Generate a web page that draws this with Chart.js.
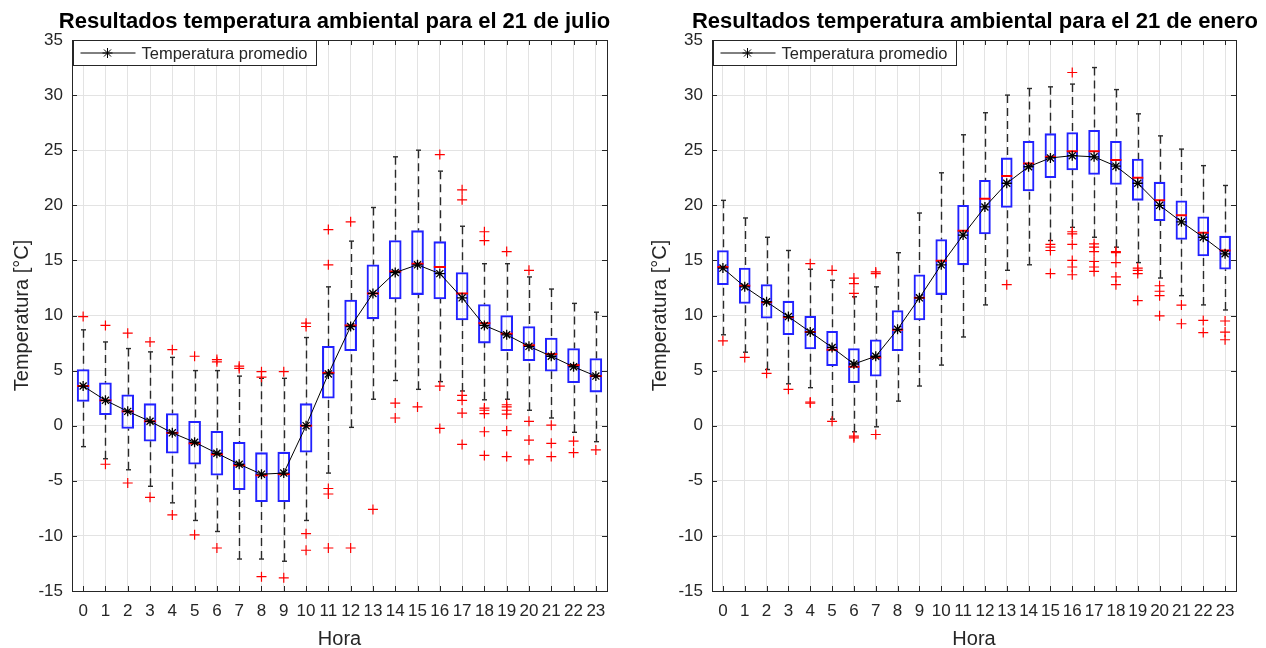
<!DOCTYPE html>
<html lang="es">
<head>
<meta charset="utf-8">
<title>Temperatura ambiental por hora</title>
<script src="https://cdn.jsdelivr.net/npm/chart.js@4.4.0/dist/chart.umd.min.js"></script>
<style>
  html, body { margin: 0; padding: 0; background: #fff; }
  .wrap { display: flex; width: 1266px; height: 648px; }
  .panel { width: 633px; height: 648px; }
</style>
</head>
<body>
<div class="wrap">
  <div class="panel"><canvas id="julio" width="633" height="648"></canvas></div>
  <div class="panel"><canvas id="enero" width="633" height="648"></canvas></div>
</div>
<script>
/* ---- Hours on the x axis ---- */
const HOURS = ['0', '1', '2', '3', '4', '5', '6', '7', '8', '9', '10', '11',
  '12', '13', '14', '15', '16', '17', '18', '19', '20', '21', '22', '23'];

/* ---- 21 de julio (°C) ---- */
const JUL_LOW    = [-1.9, -3.0, -4.0, -5.5, -7.0, -8.6, -9.6, -12.1, -12.1, -12.3, -8.6, -4.3,
  -0.15, 2.4, 4.1, 3.3, 4.0, 3.15, 2.35, 2.4, 1.4, 0.7, -0.6, -1.45];
const JUL_Q1     = [2.2, 1.0, -0.25, -1.4, -2.5, -3.5, -4.5, -5.8, -6.9, -6.9, -2.4, 2.5,
  6.8, 9.7, 11.5, 11.9, 11.5, 9.6, 7.5, 6.8, 5.9, 4.95, 3.9, 3.05];
const JUL_MEDIAN = [3.6, 2.3, 1.3, 0.4, -0.65, -1.6, -2.6, -3.6, -4.5, -4.4, 0.0, 4.8,
  9.1, 12.0, 14.0, 14.7, 14.4, 12.0, 9.3, 8.35, 7.3, 6.5, 5.5, 4.5];
const JUL_Q3     = [5.1, 3.9, 2.8, 2.0, 1.1, 0.4, -0.5, -1.5, -2.45, -2.4, 2.0, 7.2,
  11.4, 14.6, 16.8, 17.7, 16.7, 13.9, 11.0, 10.0, 9.0, 7.95, 7.0, 6.1];
const JUL_HIGH   = [8.7, 7.6, 7.0, 6.7, 6.2, 5.0, 5.0, 4.5, 4.3, 4.3, 8.0, 12.6,
  16.75, 19.8, 24.4, 25.0, 23.1, 18.1, 14.7, 14.7, 13.5, 12.4, 11.1, 10.3];
const JUL_MEAN   = [3.6, 2.3, 1.3, 0.4, -0.65, -1.5, -2.5, -3.5, -4.4, -4.3, 0.0, 4.7,
  9.0, 12.0, 13.9, 14.6, 13.8, 11.6, 9.1, 8.25, 7.2, 6.3, 5.35, 4.5];
const JUL_OUTLIERS = [
  [9.9], [9.1, -3.5], [8.4, -5.2], [7.6, -6.5], [6.9, -8.1], [6.3, -9.9],
  [6.0, 5.8, -11.1], [5.4, 5.2], [4.9, 4.4, -13.7], [4.9, -13.8],
  [9.3, 9.0, -9.8, -11.3], [17.8, 14.6, -5.7, -6.2, -11.1],
  [18.5, -11.1], [-7.6], [2.05, 0.7], [1.7], [24.6, 3.6, -0.25],
  [21.4, 20.5, 2.75, 2.3, 1.15, -1.7], [17.6, 16.8, 1.6, 1.4, 1.1, -0.55, -2.7],
  [15.8, 1.9, 1.7, 1.4, 1.05, -0.45, -2.8], [14.1, 0.4, -1.3, -3.1],
  [0.05, -1.6, -2.8], [-1.4, -2.45], [-2.2]
];

/* ---- 21 de enero (°C) ---- */
const ENE_LOW    = [8.25, 6.67, 5.1, 3.8, 3.45, 0.6, -0.55, -0.1, 2.23, 3.6, 5.5, 8.05,
  10.96, 14.1, 14.6, 16.8, 18.0, 17.1, 16.2, 14.8, 13.4, 11.8, 10.96, 10.5];
const ENE_Q1     = [12.8, 11.1, 9.76, 8.25, 6.97, 5.44, 3.9, 4.5, 6.8, 9.6, 11.9, 14.6,
  17.4, 19.8, 21.3, 22.5, 23.2, 22.8, 21.9, 20.45, 18.6, 16.9, 15.4, 14.2];
const ENE_MEDIAN = [14.4, 12.7, 11.2, 9.85, 8.5, 6.9, 5.35, 6.2, 8.7, 11.6, 14.97, 17.7,
  20.6, 22.65, 23.8, 24.4, 24.9, 24.9, 24.1, 22.5, 20.45, 19.1, 17.5, 15.9];
const ENE_Q3     = [15.9, 14.3, 12.8, 11.3, 9.94, 8.56, 7.0, 7.8, 10.45, 13.7, 16.9, 20.0,
  22.26, 24.3, 25.8, 26.5, 26.6, 26.8, 25.8, 24.2, 22.1, 20.4, 18.95, 17.2];
const ENE_HIGH   = [20.45, 18.85, 17.1, 15.9, 14.2, 13.2, 11.7, 12.6, 15.7, 19.3, 22.95, 26.4,
  28.4, 30.0, 30.6, 30.75, 31.0, 32.5, 30.5, 28.3, 26.3, 25.1, 23.6, 21.8];
const ENE_MEAN   = [14.3, 12.6, 11.25, 9.9, 8.5, 7.1, 5.6, 6.3, 8.75, 11.6, 14.6, 17.3,
  19.85, 22.0, 23.5, 24.3, 24.5, 24.4, 23.55, 22.0, 20.0, 18.5, 17.1, 15.6];
const ENE_OUTLIERS = [
  [7.7], [6.2], [4.75], [3.3], [14.7, 2.15, 2.05], [14.1, 0.4],
  [13.4, 12.9, 12.0, -0.95, -1.1], [13.95, 13.8, -0.8], [], [], [], [],
  [], [12.8], [], [16.45, 16.2, 15.9, 13.8],
  [32.05, 17.6, 17.4, 16.45, 15.0, 14.4, 13.7], [16.5, 16.2, 15.8, 14.9, 14.4, 14.0],
  [15.8, 15.7, 14.8, 13.5, 12.8], [14.3, 14.1, 13.8, 11.35], [12.7, 12.2, 11.8, 9.97],
  [10.95, 9.25], [9.55, 8.45], [9.5, 8.5, 7.8]
];

const FONT = "'Liberation Sans', Arial, Helvetica, sans-serif";
const INK = '#262626';
const GRID = '#e3e3e3';

Chart.defaults.font.family = FONT;
Chart.defaults.color = INK;

/* ---- Whiskers, axes frame, inner ticks, title and the legend box ---- */
const boxplotFrame = {
  id: 'boxplotFrame',
  beforeDatasetsDraw(chart, args, opts) {
    const { ctx, scales: { x, y } } = chart;
    ctx.save();
    ctx.strokeStyle = '#2a2a2a';
    ctx.lineWidth = 1.4;
    opts.low.forEach((lo, i) => {
      const px = Math.round(x.getPixelForValue(i)) + 0.5;
      [[opts.q1[i], lo], [opts.q3[i], opts.high[i]]].forEach(([from, to]) => {
        const yTo = y.getPixelForValue(to);
        ctx.setLineDash([8, 5]);
        ctx.beginPath();
        ctx.moveTo(px, yTo);
        ctx.lineTo(px, y.getPixelForValue(from));
        ctx.stroke();
        ctx.setLineDash([]);
        ctx.beginPath();
        ctx.moveTo(px - opts.cap, yTo);
        ctx.lineTo(px + opts.cap, yTo);
        ctx.stroke();
      });
    });
    ctx.restore();
  },
  afterDraw(chart, args, opts) {
    const { ctx, chartArea: a, scales: { x, y } } = chart;
    ctx.save();
    ctx.strokeStyle = INK;
    ctx.lineWidth = 1;
    ctx.strokeRect(Math.round(a.left) + 0.5, Math.round(a.top) + 0.5,
      Math.round(a.right - a.left), Math.round(a.bottom - a.top));

    // inward tick marks on all four sides
    const t = 5;
    ctx.beginPath();
    y.ticks.forEach(tk => {
      const py = Math.round(y.getPixelForValue(tk.value)) + 0.5;
      ctx.moveTo(a.left, py); ctx.lineTo(a.left + t, py);
      ctx.moveTo(a.right, py); ctx.lineTo(a.right - t, py);
    });
    HOURS.forEach((h, i) => {
      const px = Math.round(x.getPixelForValue(i)) + 0.5;
      ctx.moveTo(px, a.bottom); ctx.lineTo(px, a.bottom - t);
      ctx.moveTo(px, a.top); ctx.lineTo(px, a.top + t);
    });
    ctx.stroke();

    // title above the axes, free to run past the plot edges
    ctx.fillStyle = '#000';
    ctx.font = 'bold 22px ' + FONT;
    ctx.textAlign = 'center';
    ctx.textBaseline = 'middle';
    ctx.fillText(opts.title, (a.left + a.right) / 2 + opts.titleShift, 22);

    // legend for the mean line
    const mean = chart.data.datasets[0];
    const lx = Math.round(a.left) + 1.5, ly = Math.round(a.top) + 0.5;
    const lw = 243, lh = 25, cy = ly + lh / 2;
    ctx.fillStyle = '#fff';
    ctx.fillRect(lx, ly, lw, lh);
    ctx.strokeRect(lx, ly, lw, lh);
    ctx.strokeStyle = '#000';
    ctx.beginPath();
    ctx.moveTo(lx + 7, cy); ctx.lineTo(lx + 62, cy);
    ctx.stroke();
    Chart.helpers.drawPoint(ctx, { pointStyle: 'star', radius: 5, borderWidth: 1.2, rotation: 0 }, lx + 34, cy);
    ctx.fillStyle = INK;
    ctx.font = '16.5px ' + FONT;
    ctx.textAlign = 'left';
    ctx.fillText(mean.label, lx + 68, cy + 1);
    ctx.restore();
  }
};

function boxplotChart(canvasId, s) {
  const outlierPoints = [];
  s.outliers.forEach((list, i) => list.forEach(v => outlierPoints.push({ x: HOURS[i], y: v })));

  return new Chart(document.getElementById(canvasId), {
    type: 'bar',
    data: {
      labels: HOURS,
      datasets: [
        {
          type: 'line', label: 'Temperatura promedio', data: s.mean,
          borderColor: '#000', borderWidth: 1, tension: 0,
          pointStyle: 'star', pointRadius: 5, pointBorderWidth: 1.3,
          pointBorderColor: '#000', pointBackgroundColor: '#000', order: 0,
        },
        {
          type: 'line', label: 'Mediana', data: s.median, showLine: false,
          pointStyle: 'line', pointRadius: s.boxWidth / 2, pointBorderWidth: 2,
          pointBorderColor: '#ff0000', order: 1,
        },
        {
          type: 'line', label: 'Atípicos', data: outlierPoints, showLine: false,
          pointStyle: 'cross', pointRadius: 5, pointBorderWidth: 1.2,
          pointBorderColor: '#ff0000', order: 2,
        },
        {
          type: 'bar', label: 'Cuartiles', data: s.q1.map((v, i) => [v, s.q3[i]]),
          backgroundColor: 'rgba(0,0,0,0)', borderColor: '#2222ff', borderWidth: 1.4,
          borderSkipped: false, barThickness: s.boxWidth, grouped: false, order: 3,
        },
      ],
    },
    options: {
      responsive: false,
      animation: false,
      events: [],
      layout: { padding: { left: 0, right: s.padRight, top: 40, bottom: 0 } },
      plugins: {
        legend: { display: false },
        tooltip: { enabled: false },
        title: { display: false },
        boxplotFrame: {
          low: s.low, q1: s.q1, q3: s.q3, high: s.high, cap: 2.5,
          title: s.title, titleShift: s.titleShift,
        },
      },
      scales: {
        x: {
          offset: true,
          grid: { offset: false, color: GRID, drawTicks: false },
          border: { display: false },
          ticks: { color: INK, font: { size: 17 }, padding: 10, maxRotation: 0, autoSkip: false },
          title: { display: true, text: 'Hora', color: INK, font: { size: 20, lineHeight: 0.9 }, padding: { top: 0, bottom: 0 } },
          afterFit: (scale) => { scale.height = 57; },
        },
        y: {
          min: -15, max: 35,
          grid: { color: GRID, drawTicks: false },
          border: { display: false },
          ticks: { stepSize: 5, color: INK, font: { size: 17 }, padding: 9 },
          title: { display: true, text: 'Temperatura [°C]', color: INK, font: { size: 20 }, padding: { top: s.yTitlePad } },
          afterFit: (scale) => { scale.width = s.yWidth; },
        },
      },
    },
    plugins: [boxplotFrame],
  });
}

boxplotChart('julio', {
  title: 'Resultados temperatura ambiental para el 21 de julio',
  low: JUL_LOW, q1: JUL_Q1, median: JUL_MEDIAN, q3: JUL_Q3, high: JUL_HIGH,
  mean: JUL_MEAN, outliers: JUL_OUTLIERS,
  boxWidth: 12, yWidth: 72, padRight: 26, yTitlePad: 10, titleShift: -5,
});

boxplotChart('enero', {
  title: 'Resultados temperatura ambiental para el 21 de enero',
  low: ENE_LOW, q1: ENE_Q1, median: ENE_MEDIAN, q3: ENE_Q3, high: ENE_HIGH,
  mean: ENE_MEAN, outliers: ENE_OUTLIERS,
  boxWidth: 11, yWidth: 79, padRight: 30, yTitlePad: 15, titleShift: 1,
});
</script>
</body>
</html>
